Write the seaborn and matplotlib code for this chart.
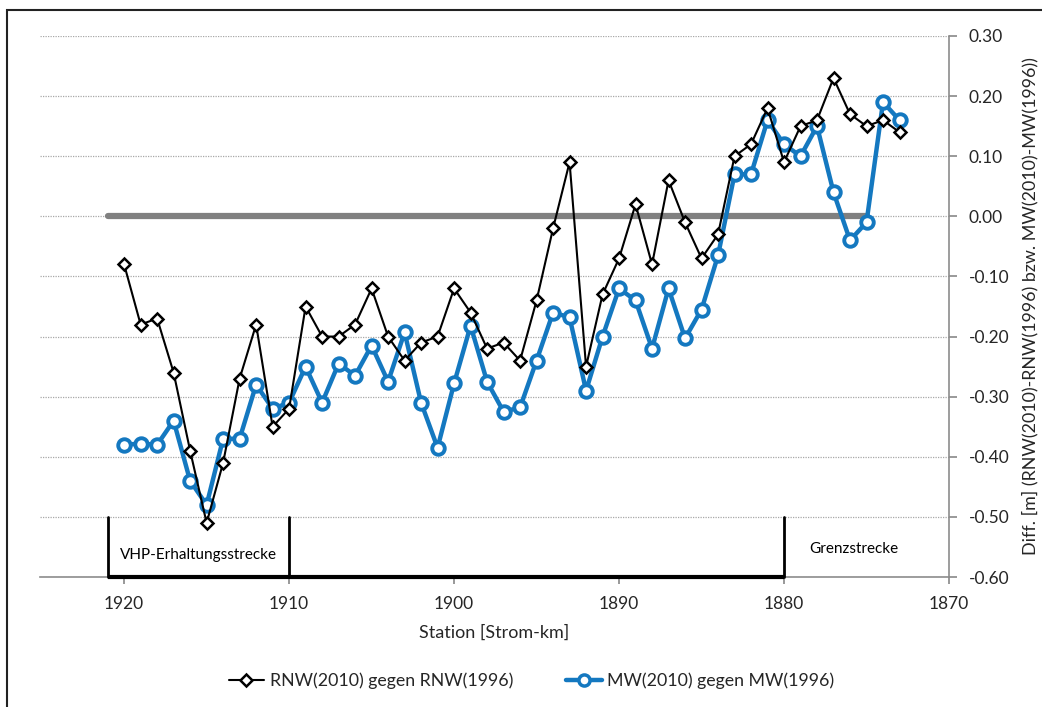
import numpy as np
import pandas as pd
import matplotlib
matplotlib.use("Agg")
import matplotlib.pyplot as plt
import seaborn as sns
from matplotlib.lines import Line2D
from matplotlib.patches import Rectangle

# ---- data ----
station = list(range(1920, 1872, -1))  # 1920 .. 1873
rnw = [-0.08, -0.18, -0.17, -0.26, -0.39, -0.51, -0.41, -0.27, -0.18, -0.35,
       -0.32, -0.15, -0.20, -0.20, -0.18, -0.12, -0.20, -0.24, -0.21, -0.20,
       -0.12, -0.16, -0.22, -0.21, -0.24, -0.14, -0.02, 0.09, -0.25, -0.13,
       -0.07, 0.02, -0.08, 0.06, -0.01, -0.07, -0.03, 0.10, 0.12, 0.18,
       0.09, 0.15, 0.16, 0.23, 0.17, 0.15, 0.16, 0.14]
mw = [-0.38, -0.378, -0.38, -0.34, -0.44, -0.48, -0.37, -0.37, -0.28, -0.32,
      -0.31, -0.25, -0.31, -0.245, -0.265, -0.215, -0.275, -0.193, -0.31, -0.385,
      -0.278, -0.182, -0.275, -0.325, -0.318, -0.24, -0.16, -0.168, -0.29, -0.20,
      -0.12, -0.14, -0.22, -0.12, -0.203, -0.155, -0.065, 0.07, 0.07, 0.16,
      0.12, 0.10, 0.15, 0.04, -0.04, -0.01, 0.19, 0.16]
zero_line_x = [1921, 1875]
zero_line_y = [0.0, 0.0]
section_bounds = [1921, 1910, 1880]
section_labels = ["VHP-Erhaltungsstrecke", "Grenzstrecke"]
yticks = [0.30, 0.20, 0.10, 0.00, -0.10, -0.20, -0.30, -0.40, -0.50, -0.60]
xticks = [1920, 1910, 1900, 1890, 1880, 1870]
label_rnw = "RNW(2010) gegen RNW(1996)"
label_mw = "MW(2010) gegen MW(1996)"

df = pd.DataFrame({"station": station, "rnw": rnw, "mw": mw})

sns.set_theme(style="white")
plt.rcParams["font.family"] = ["Lato", "DejaVu Sans"]

fig = plt.figure(figsize=(10.42, 7.07), dpi=100)
ax = fig.add_axes([40/1042, 1-577/707, (949-40)/1042, (577-36)/707])

# outer frame
fig.patches.append(Rectangle((7/1042, -0.1), 1.2, 1-10/707+0.1, transform=fig.transFigure,
                             fill=False, edgecolor="#222222", linewidth=1.5, zorder=-1))

ax.set_xlim(1925.1, 1870)
ax.set_ylim(-0.60, 0.30)

# gridlines
for y in yticks:
    ax.axhline(y, color="#a8a8a8", linestyle=(0, (1, 1)), linewidth=0.9, zorder=0)

# zero line
sns.lineplot(x=zero_line_x, y=zero_line_y, ax=ax, color="#808080", linewidth=4.5,
             sort=False, zorder=1)

# section boundaries
for xb in section_bounds:
    ax.plot([xb, xb], [-0.60, -0.50], color="black", linewidth=2, zorder=3, clip_on=False)
ax.plot([section_bounds[0], section_bounds[2]], [-0.60, -0.60], color="black",
        linewidth=3, zorder=3, clip_on=False, solid_capstyle="butt")
ax.text((section_bounds[0] + section_bounds[1]) / 2, -0.563, section_labels[0],
        ha="center", va="center", fontsize=11, color="black")
ax.text(1875.8, -0.553, section_labels[1], ha="center", va="center", fontsize=11,
        color="black")

# series
sns.lineplot(data=df, x="station", y="rnw", ax=ax, color="black", linewidth=1.5,
             marker="D", markersize=6, markerfacecolor="white", markeredgecolor="black",
             markeredgewidth=1.8, sort=False, zorder=5)
sns.lineplot(data=df, x="station", y="mw", ax=ax, color="#1478c0", linewidth=3.2,
             marker="o", markersize=9, markerfacecolor="white", markeredgecolor="#1478c0",
             markeredgewidth=2.8, sort=False, zorder=4)

# axes styling
for s in ["top", "left"]:
    ax.spines[s].set_visible(False)
for s in ["bottom", "right"]:
    ax.spines[s].set_color("#8c8c8c")
    ax.spines[s].set_linewidth(1.2)
ax.yaxis.tick_right()
ax.yaxis.set_label_position("right")
ax.set_yticks(yticks)
ax.set_yticklabels([f"{v:.2f}" for v in yticks], fontsize=12.5)
ax.set_xticks(xticks)
ax.set_xticklabels([str(v) for v in xticks], fontsize=12.5)
ax.tick_params(axis="y", direction="out", length=6, color="#8c8c8c", pad=8, right=True)
ax.tick_params(axis="x", direction="out", length=5, color="#8c8c8c", pad=9, bottom=True)
ax.set_xlabel("Station [Strom-km]", fontsize=13, labelpad=9)
ax.set_ylabel("Diff. [m] (RNW(2010)-RNW(1996) bzw. MW(2010)-MW(1996))", fontsize=12.9,
              labelpad=9)
if ax.get_legend() is not None:
    ax.get_legend().remove()

handles = [
    Line2D([0], [0], color="black", linewidth=1.5, marker="D", markersize=6,
           markerfacecolor="white", markeredgecolor="black", markeredgewidth=1.8),
    Line2D([0], [0], color="#1478c0", linewidth=3.2, marker="o", markersize=8,
           markerfacecolor="white", markeredgecolor="#1478c0", markeredgewidth=2.5),
]
fig.legend(handles, [label_rnw, label_mw], loc="center", ncol=2,
           bbox_to_anchor=(0.51, 1-681/707), frameon=False, fontsize=12.8,
           handlelength=2.0, handletextpad=0.3, columnspacing=3.0)

fig.savefig("out.png", dpi=100)
